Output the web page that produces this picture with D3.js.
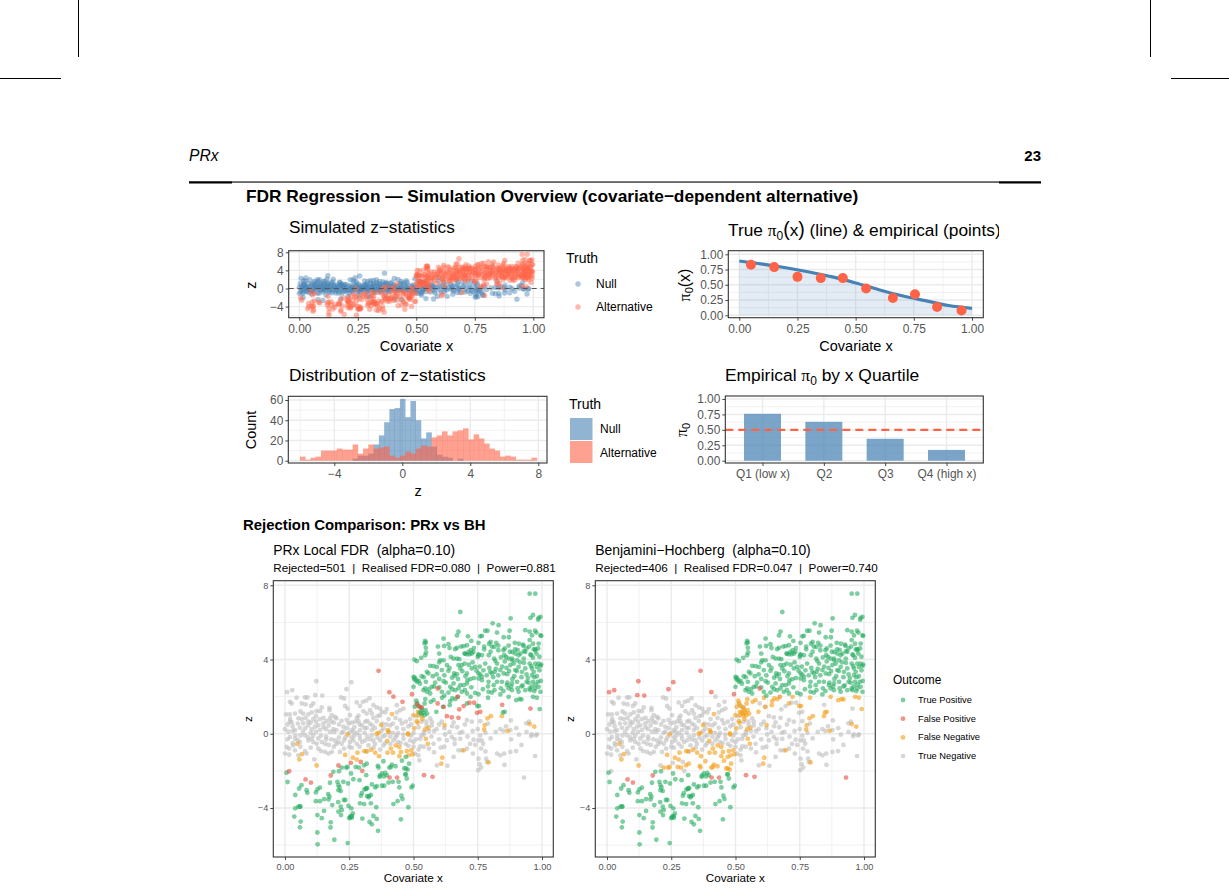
<!DOCTYPE html>
<html><head><meta charset="utf-8">
<script src="https://cdn.jsdelivr.net/npm/d3@7/dist/d3.min.js"></script>
<style>
html,body{margin:0;padding:0;background:#fff}
svg{display:block}
text{font-family:"Liberation Sans",Arial,sans-serif;fill:#000;white-space:pre}
</style></head><body><svg id="c" width="1229" height="890"></svg>
<script>
// ---------- data: [covariate x, z] ----------
const altBothUpper=[[.952,7.55],[.974,7.55],[.682,6.56],[.878,6.22],[.955,6.25],[.965,6.4],[.987,6.25],[.994,6.3],[.985,6.15],[.808,5.95],[.831,5.85],[.779,5.55],[.788,5.55],[.935,5.58],[.952,5.5],[.973,5.55],[.978,5.45],[.994,5.3],[.997,5.28],[.961,5.3],[.675,5.5],[.669,5.3],[.712,5.25],[.617,5.13],[.76,5.25],[.766,5.28],[.825,5.45],[.851,5.2],[.871,5.2],[.874,5.55],[.545,5],[.548,4.92],[.543,4.87],[.548,4.63],[.636,4.83],[.619,4.73],[.725,5],[.708,4.77],[.753,4.9],[.794,4.85],[.822,4.9],[.814,4.68],[.855,4.6],[.894,4.9],[.926,4.8],[.928,4.74],[.952,5.05],[.987,4.86],[.974,4.56],[.968,4.55],[.669,4.63],[.662,4.56],[.695,4.72],[.718,4.28],[.7,4.32],[.727,4.32],[.733,4.41],[.753,4.28],[.83,4.5],
[.504,4],[.513,3.91],[.53,4.09],[.545,4.23],[.549,4.38],[.6,4.32],[.604,3.96],[.617,3.96],[.645,4.14],[.656,4.05],[.669,4.05],[.678,4.02],[.699,4.32],[.708,4.28],[.714,4.41],[.723,4.5],[.75,4.14],[.753,4.23],[.766,4.23],[.793,4.23],[.814,4.05],[.818,3.93],[.853,4.23],[.86,4.14],[.87,4.05],[.896,4.32],[.909,4.23],[.916,4.32],[.935,4.41],[.955,4.27],[.958,4.23],[.974,4.5],[.978,4.32],[.883,4.05],[.903,3.96],[.929,4.05],
[.565,3.66],[.578,3.64],[.552,3.34],[.558,3.25],[.591,3.6],[.61,3.43],[.636,3.39],[.658,3.25],[.669,3.21],[.675,3.7],[.682,3.52],[.688,3.7],[.699,3.78],[.708,3.25],[.727,3.52],[.74,3.6],[.753,3.25],[.76,3.19],[.766,3.07],[.779,3.78],[.799,3.34],[.805,3.25],[.816,3.34],[.825,3.78],[.838,3.43],[.851,3.25],[.864,3.21],[.877,3.7],[.89,3.78],[.896,3.43],[.909,3.6],[.922,3.34],[.935,3.52],[.952,3.78],[.961,3.52],[.968,3.34],[.987,3.78],[.994,3.66],[.997,3.73],[.974,3.78],[.961,3.16],
[.5,3.07],[.503,2.94],[.513,2.8],[.532,3.1],[.548,2.8],[.571,2.53],[.584,2.76],[.617,2.83],[.626,2.76],[.643,2.53],[.656,2.71],[.682,2.62],[.695,2.62],[.708,2.71],[.721,2.94],[.753,2.98],[.766,2.89],[.792,2.8],[.812,2.62],[.825,2.8],[.844,2.8],[.864,2.62],[.883,2.71],[.903,2.8],[.948,2.76],[.965,2.8],[.984,2.8],[.987,2.53],[.5,2.53],[.539,2.35],[.552,2.26],[.565,2.17],[.61,2.26],[.636,2.22],[.662,2.35],[.688,2.26],[.708,2.17],[.753,2.13],[.792,2.26],[.805,2.22],[.838,2.12],[.883,2.35],[.909,2.26],[.935,2.35],[.952,2.44],[.994,2.26],[.974,2.44],
[.66,3.12],[.65,3.02],[.673,2.95],[.69,3.37],[.702,3.1],[.715,3.72],[.73,3.85],[.745,3.4],[.758,3.62],[.772,3.42],[.785,3.15],[.795,3.55],[.81,3.05],[.82,3.5],[.83,3.15],[.845,3.62],[.855,3.9],[.862,3.55],[.872,3.38],[.885,3.95],[.892,3.1],[.902,3.38],[.915,3.85],[.92,3.05],[.93,3.82],[.94,3.2],[.945,3],[.958,3.65],[.97,3.05],[.98,3.6],[.99,3.42],[.6,2.95],[.59,3.2],[.575,3.1],[.63,3.7],[.64,3.55],[.62,3.15],[.735,3],[.71,2.88],[.64,4.62],[.685,4.7],[.735,4.62],[.775,4.55],[.8,4.42],[.805,4.7],[.84,4.12],[.875,4.42],[.885,4.4],[.905,4.52],[.94,4.6],[.965,4.1],[.99,4.15],[.6,3.85],[.595,4.7],
[.505,3.02],[.51,2.9],[.52,2.85],[.525,2.7],[.54,3.05],[.545,2.45],[.56,2.4],[.58,2.55],[.6,2.5],[.62,2.05],[.65,2.4],[.675,2.45],[.7,2.35],[.725,2.5],[.74,2.2],[.77,2.4],[.775,4.7],[.79,2.55],[.8,4.95],[.815,2.35],[.83,4.75],[.84,2.45],[.85,4.5],[.865,2.75],[.87,4.75],[.88,2.55],[.885,2.95],[.895,4.55],[.905,2.45],[.91,4.85],[.925,2.6],[.93,4.45],[.94,2.8],[.95,4.7],[.955,2.35],[.965,4.85],[.975,2.65],[.985,4.6],[.995,2.85],[.98,3.1],[.85,2.3],[.87,2.45],[.92,2.55],[.96,2.55],[.97,2.3]];
const altBothLower=[[.006,-2.1],[.01,-2.6],[.04,-3.3],[.055,-2.95],[.064,-2.77],[.084,-3.04],[.087,-3.18],[.12,-3.16],[.126,-3],[.136,-2.9],[.12,-3.63],[.136,-3.63],[.152,-3.52],[.168,-3.25],[.173,-3.39],[.169,-3.54],[.184,-3.84],[.207,-3.68],[.229,-3.57],[.235,-3.57],[.217,-3.93],[.221,-4.11],[.247,-3.89],[.258,-4.02],[.04,-4.02],[.052,-3.93],[.06,-3.93],[.036,-4.46],[.061,-4.73],[.058,-5.04],[.126,-4.38],[.143,-4.55],[.152,-4.16],[.178,-4.77],[.177,-5.05],[.126,-5.32],[.127,-5.96],[.192,-5.71],[.244,-5.89],[.208,-4.2],[.218,-4.38],[.253,-4.5],[.26,-4.43],[.264,-4.29],[.25,-4.55],[.301,-4.57],[.329,-4.75],[.338,-4.88],[.344,-4.43],[.357,-4.59],[.362,-5.23],[.451,-4.61],[.48,-3.96],[.457,-3.52],[.453,-3.34],[.438,-3.63],[.422,-3.79],[.295,-3.34],[.299,-3.2],[.309,-3],[.316,-2.95],[.319,-3.36],[.327,-3.36],[.334,-3.3],[.292,-3.75],[.308,-3.79],[.334,-3.75],[.355,-3.96],[.338,-2.73],[.351,-2.89],[.357,-2.82],[.377,-2.8],[.386,-2.8],[.403,-2.63],[.419,-2.59],[.442,-2.59],[.445,-2.89],[.492,-2.89],[.497,-2.8],[.175,-2.64],[.204,-2.59],[.208,-2.77],[.212,-2.89],[.208,-3.04],[.217,-3.09],[.227,-2.59],[.245,-2.68],[.266,-2.45],[.29,-2.5],[.316,-2.23],[.188,-2.05],[.21,-2.02],[.257,-2.14],[.368,-2.32],[.377,-2.14],[.39,-2.11],[.396,-2.23],[.468,-2.2],[.474,-2.41],[.255,-4.45],[.26,-4.52],[.385,-2.3],[.37,-2.25],[.47,-2.18],[.315,-2.97],[.32,-2.92],[.325,-3.42],[.058,-3.92]];
const altPrxOnly=[[.221,-1.82],[.238,-1.82],[.243,-1.79],[.275,-1.79],[.288,-1.82],[.308,-1.7],[.318,-1.61],[.361,-1.73],[.364,-1.82],[.383,-1.48],[.416,-1.66],[.412,-1.79],[.406,-1.82],[.464,-1.87],[.471,-1.87],[.477,-1.93],[.483,-1.61],[.47,-1.25],[.455,-1.45],[.43,-1.75],
[.511,1.78],[.514,1.65],[.505,1.45],[.52,1.5],[.546,1.87],[.543,1.63],[.533,1.27],[.547,1.27],[.553,1.09],[.524,1.15],[.543,1],[.567,1.72],[.578,1.81],[.589,1.18],[.611,1.94],[.615,1.45],[.643,1.76],[.651,1.9],[.663,1.87],[.673,1.99],[.641,1.54],[.722,1.99],[.708,1.63],[.748,1.5],[.755,1.49],[.79,1.94],[.855,1.18],[.848,1.15],[.87,1.99],[.9,1.81],[.913,1.87],[.92,1.85],[.965,1.99],[.98,1.94],[.991,1.33],[.53,1.4],[.538,1.15],[.53,1.08]];
const altNeither=[[.066,-1.1],[.056,-1.38],[.048,-.54],[.123,-1.71],[.234,-1.14],[.264,-1.29],[.282,-1.02],[.279,-1.39],[.308,-.93],[.316,-.95],[.335,-.86],[.351,-1.02],[.366,-1.21],[.399,-1.02],[.398,-.39],[.412,-.8],[.42,-1.02],[.431,-.63],[.445,-.71],[.451,-.98],[.445,-1.21],[.474,-.93],[.481,-1.16],[.491,-.89],[.496,-1.11],[.548,-.27],[.556,-.54],[.612,-1.29],[.608,-1.61],[.695,-.89],[.792,-1.54],[.243,-.04],[.357,0],[.403,.09],[.479,-.04],
[.364,.05],[.4,.2],[.374,.47],[.416,1.06],[.478,.02],[.503,.29],[.545,.23],[.558,.32],[.621,.47],[.517,1.18],[.519,1],[.532,.97],[.5,1],[.513,.68],[.516,.59],[.535,.79],[.777,.47],[.775,.23],[.866,.16],[.788,.83],[.801,.95],[.844,.95],[.952,.52],[.97,.39]];
const nullNeither=[[.329,1.92],[.316,1.78],[.019,1.72],[.026,1.63],[.045,1.94],[.078,1.96],[.087,1.96],[.065,1.63],[.08,1.58],[.101,1.5],[.11,1.63],[.143,1.42],[.173,1.4],[.173,1.27],[.218,1.96],[.23,1.9],[.234,1.5],[.243,1.36],[.279,1.69],[.292,1.5],[.303,1.72],[.344,1.54],[.357,1.42],[.37,1.36],[.331,1.27],[.305,1.22],[.396,1.33],[.435,1.54],[.461,1.36],[.448,1.27],[.435,1.15],[.004,1.04],[.019,1.04],[.039,1.09],[.071,1.09],[.091,1.04],[.104,1.15],[.123,1.22],[.136,1.22],[.182,1],[.195,.91],[.253,1],[.286,.97],[.318,1.09],[.338,1.09],[.377,1.18],[.39,1.15],[.019,.65],[.026,.61],[.052,.83],[.065,.79],[.071,.56],[.091,.65],[.11,.79],[.121,.65],[.136,.79],[.149,.56],[.162,.68],[.175,.83],[.2,.83],[.227,.38],[.247,.56],[.273,.65],[.286,.68],[.312,.65],[.344,.86],[.357,.68],[.37,1],[.403,.79],[.448,.74],[.487,.79],[0,.25],[.013,.11],[.039,.2],[.058,.32],[.078,.29],[.104,.25],[.117,.38],[.136,.2],[.175,.11],[.188,.25],[.227,.11],[.26,.2],[.266,.11],[.292,.2],[.318,.32],[.338,.2],[.383,.29],[.403,.11],[.435,.32],[.461,.25],[.571,.65],[.565,.83],[.61,.65],[.656,.61],[.708,.74],[.727,.65],[.76,.68],[.879,.72],[.939,.56],[.949,.65],[.838,.25],[.877,.2],[.96,-.03],[.98,-.03],[.551,.45],[.532,.65],[.571,.45],
[.006,-.71],[.016,-.8],[0,-1.07],[.016,-1.13],[.032,-.63],[.039,-.89],[.052,-1.16],[.078,-.93],[.084,-1.07],[.114,-1.38],[.019,-.18],[.039,-.27],[.058,-.45],[.078,-.09],[.091,-.36],[.104,-.27],[.123,-.54],[.143,-.45],[.156,-.54],[.14,-.93],[.156,-.98],[.169,-1.07],[.182,-.98],[.195,-.36],[.208,-.45],[.221,-.54],[.214,-.98],[.253,-.45],[.266,-.36],[.279,-.54],[.292,-.27],[.312,-.36],[.325,-.63],[.344,-.36],[.37,-.36],[.383,-.63],[.422,-.36],[.461,-.27],[.487,-.36],[.5,-.71],[.506,-1.07],[.519,-1.16],[.523,-1.43],[.526,-.68],[.591,-1.7],[.632,-1.73],[.606,-.75],[.578,-.54],[.656,-1.25],[.675,-.89],[.688,-.89],[.708,-.8],[.731,-1.07],[.734,-.32],[.753,-.36],[.766,-.36],[.763,-.8],[.771,-.54],[.753,-1.34],[.783,-1.34],[.786,-1.52],[.757,-1.64],[.763,-1.82],[.752,-1.96],[.825,-1.07],[.838,-1.16],[.853,-1.07],[.854,-1.68],[.877,-.98],[.899,-.93],[.958,-.13],[.977,-.09],[.973,-1.2],[.526,-.27],[.623,-.04],[.649,-.18],[.682,-.27],[.435,-.09],[.39,-.09],[.338,-.09],
[.03,.4],[.05,.55],[.06,-.1],[.07,.1],[.09,.45],[.11,-.1],[.12,.1],[.13,-.25],[.15,.35],[.16,-.15],[.17,.45],[.18,-.3],[.19,.6],[.2,.2],[.21,-.2],[.22,.7],[.235,-.2],[.24,.3],[.25,.05],[.26,-.2],[.27,.35],[.28,.05],[.29,-.1],[.3,.45],[.31,.05],[.32,-.15],[.33,.55],[.35,.3],[.36,-.2],[.375,.15],[.38,-.15],[.395,.5],[.41,-.15],[.42,.55],[.43,-.2],[.44,.05],[.455,.55],[.47,-.55],[.48,.4],[.49,-.1],[.5,.05],[.51,-.3],[.52,.35],[.54,-.05],[.56,.15],[.57,-.15],[.59,.25],[.6,-.3],[.62,.3],[.64,.1],[.66,-.3],[.67,.35],[.69,.1],[.71,-.15],[.73,.15],[.75,.25],[.76,-.1],[.78,.05],[.8,-.25],[.82,.1],[.85,.15],[.88,-.3],[.91,-.05],[.94,.1],[.03,-.5],[.06,-.7],[.1,-.75],[.13,-.8],[.16,-.3],[.19,-.7],[.23,-.8],[.26,-.75],[.29,-.7],[.32,-.95],[.345,-.75],[.37,-.85],[.41,-.55],[.45,-.5],[.48,-.65],[.5,-.45],[.54,-.7],[.58,-1],[.62,-.7],[.66,-.55],[.72,-.55],[.78,-.95],
[.01,.5],[.01,-.3],[.02,.8],[.03,.15],[.04,-.1],[.05,-.35],[.06,1.2],[.08,.85],[.09,-.2],[.1,.6],[.1,.05],[.11,-.45],[.12,.95],[.13,.45],[.14,-.1],[.15,.85],[.16,.25],[.17,-.6],[.18,.65],[.19,.1],[.2,-.55],[.21,.5],[.22,.05],[.23,-.35],[.24,.75],[.25,-.7],[.26,.6],[.27,-.1],[.28,.85],[.29,.5],[.3,-.45],[.31,.3],[.32,.7],[.33,-.3],[.34,.45],[.35,-.55],[.36,.95],[.38,.55],[.39,-.5],[.41,.45],[.42,.05],[.43,.85],[.44,-.45],[.46,-.05],[.47,.65],[.49,.5],[.51,.95],[.53,-.1],[.55,.65],[.56,-.8],[.58,.15],[.52,-.85],[.54,.1],[.6,.5],[.63,-.35],[.65,.4],[.68,.05],[.7,.5],[.74,-.6],[.79,.55],[.86,.4],[.9,.3],[.92,-.6]];
const nullPrxOnly=[[.422,2],[.457,1.72],[.594,1.63],[.617,1.45],[.63,.95],[.649,.88],[.675,.86],[.678,1.31],[.671,1.99],[.695,1.49],[.718,1.67],[.736,1.67],[.747,1.13],[.76,1.18],[.845,1.56],[.955,1.36],[.513,1.58],[.523,1.45],[.532,1.42],[.016,-2.02],[.208,-1.71],[.256,-1.57],[.295,-1.52],[.301,-2]];
const nullBhOnly=[[.008,2.24],[.028,2.35],[.122,2.83],[.118,2.08],[.145,2.06],[.239,2.4],[.258,2.78],[.93,-2.36]];
const nullBoth=[[.406,2.24],[.494,2.13],[.594,2.44],[.364,3.39],[.08,-2.46],[.101,-2.63],[.178,-2.25],[.407,-2.36],[.436,-2.36],[.541,-2.23],[.574,-2.32]];

const piLineX=[0,.1,.2,.3,.4,.5,.6,.7,.8,.9,1];
const piLineY=[.89,.84,.78,.71,.63,.53,.42,.32,.24,.16,.115];
const piPointX=[.05,.15,.25,.35,.445,.545,.66,.755,.85,.955];
const piPointY=[.83,.79,.63,.61,.61,.44,.285,.345,.135,.08];

const histStart=-6.018, histWidth=.3094;
const histNull=[0,0,0,0,0,0,0,0,0,0,2,5,5,7,16,25,38,51,52,61,43,59,40,22,28,14,6,4,3,0,2,0,0,0,0,0,0,0,0,0,0,0,0,0,0];
const histAlt=[4,1,3,4,10,10,10,12,11,11,16,7,12,16,12,13,14,5,3,5,9,7,12,15,14,23,25,29,25,29,30,32,21,26,22,17,12,10,4,5,4,1,1,1,3];

const quartiles=["Q1 (low x)","Q2","Q3","Q4 (high x)"];
const quartileValues=[.76,.63,.355,.175];
const truthLabels=["Null","Alternative"];
const outcomeLabels=["True Positive","False Positive","False Negative","True Negative"];
const tickX=[0,.25,.5,.75,1], minorX=[.125,.375,.625,.875];
const tickZ=[-4,0,4,8], minorZ=[-6,-2,2,6];
const tickPi=[0,.25,.5,.75,1], minorPi=[.125,.375,.625,.875];

// ---------- colours ----------
const STEEL="#4682B4",TOMATO="#FF6347",GREEN="#27AE60",RED="#E74C3C",ORANGE="#F39C12",GRAY="#BDBDBD";
const TICK="#555555",GRID="#EBEBEB",BORDER="#333333";

const svg=d3.select("#c");
// ---------- page furniture ----------
[[78.5,0,78.5,57],[1150.5,0,1150.5,57],[0,78.5,61,78.5],[1171,78.5,1229,78.5]].forEach(d=>svg.append("line").attr("x1",d[0]).attr("y1",d[1]).attr("x2",d[2]).attr("y2",d[3]).attr("stroke","#000").attr("stroke-width",1));
svg.append("rect").attr("x",189).attr("y",181.5).attr("width",852).attr("height",1.1);
svg.append("rect").attr("x",189).attr("y",181.5).attr("width",43).attr("height",2);
svg.append("rect").attr("x",999).attr("y",181.5).attr("width",42).attr("height",2);
const T=(x,y,s,size,o={})=>{const t=svg.append("text").attr("x",x).attr("y",y).attr("font-size",size).text(s);
  if(o.anchor)t.attr("text-anchor",o.anchor);if(o.weight)t.attr("font-weight",o.weight);if(o.style)t.attr("font-style",o.style);if(o.fill)t.style("fill",o.fill);return t;};
T(189,161,"PRx",15.6,{style:"italic"});
T(1041,161,"23",15,{anchor:"end",weight:"bold"});
T(246,202,"FDR Regression — Simulation Overview (covariate−dependent alternative)",17.3,{weight:"bold"});
T(243,530,"Rejection Comparison: PRx vs BH",14.9,{weight:"bold"});

// ---------- panel helper ----------
function panel(p){
  const g=svg.append("g");
  g.selectAll(".mn").data(p.minorX||[]).join("line").attr("x1",d=>p.x(d)).attr("x2",d=>p.x(d)).attr("y1",p.t).attr("y2",p.b).attr("stroke",GRID).attr("stroke-width",.7);
  g.selectAll(".mny").data(p.minorY||[]).join("line").attr("x1",p.l).attr("x2",p.r).attr("y1",d=>p.y(d)).attr("y2",d=>p.y(d)).attr("stroke",GRID).attr("stroke-width",.7);
  g.selectAll(".mj").data(p.majorX).join("line").attr("x1",d=>p.x(d)).attr("x2",d=>p.x(d)).attr("y1",p.t).attr("y2",p.b).attr("stroke",GRID).attr("stroke-width",1.4);
  g.selectAll(".mjy").data(p.majorY).join("line").attr("x1",p.l).attr("x2",p.r).attr("y1",d=>p.y(d)).attr("y2",d=>p.y(d)).attr("stroke",GRID).attr("stroke-width",1.4);
  return g;
}
function finish(p){
  const fs=p.tickSize;
  const ax=svg.append("g").attr("transform",`translate(0,${p.b})`).call(d3.axisBottom(p.x).tickValues(p.majorX).tickSize(3).tickPadding(p.pad).tickFormat(p.fmtX||d3.format(".2f")));
  const ay=svg.append("g").attr("transform",`translate(${p.l},0)`).call(d3.axisLeft(p.y).tickValues(p.majorY).tickSize(3).tickPadding(2).tickFormat(p.fmtY));
  [ax,ay].forEach(a=>{a.select(".domain").remove();a.selectAll("line").attr("stroke",BORDER).attr("stroke-width",.9);
    a.selectAll("text").attr("font-size",fs).style("fill",TICK).style("font-family",'"Liberation Sans",Arial,sans-serif');});
  svg.append("rect").attr("x",p.l).attr("y",p.t).attr("width",p.r-p.l).attr("height",p.b-p.t).attr("fill","none").attr("stroke",BORDER).attr("stroke-width",1.1);
}
function dots(g,data,x,y,r,col,op){
  g.append("g").selectAll("circle").data(data).join("circle").attr("cx",d=>x(d[0])).attr("cy",d=>y(d[1])).attr("r",r).attr("fill",col).attr("fill-opacity",op);
}
const fmtZ=d=>d3.format("d")(d);
const fmtPi=d3.format(".2f");

// rich label helper for the pi symbol
function piText(sel,parts){
  parts.forEach(p=>{const t=sel.append("tspan").text(p.s);
    if(p.sym)t.style("font-family",'"Liberation Serif",serif');
    if(p.sub)t.attr("font-size",p.sub).attr("dy",p.dy);
    if(p.back)t.attr("dy",p.back);
    if(p.size)t.attr("font-size",p.size);
  });
}

// ---------- 1. Simulated z-statistics ----------
{
 const p={l:288.7,r:544,t:250.7,b:317.7,x:d3.scaleLinear([0,1],[299.3,533.3]),y:d3.scaleLinear([-4,8],[306.6,252.3]),
  majorX:tickX,minorX,majorY:tickZ,minorY:minorZ,fmtY:fmtZ,tickSize:11.9,pad:3.5};
 const g=panel(p);
 const nul=[...nullNeither,...nullPrxOnly,...nullBhOnly,...nullBoth];
 const alt=[...altBothUpper,...altBothLower,...altPrxOnly,...altNeither];
 dots(g,nul,p.x,p.y,2.7,STEEL,.45);
 dots(g,alt,p.x,p.y,2.7,TOMATO,.45);
 g.append("line").attr("x1",p.l).attr("x2",p.r).attr("y1",p.y(0)).attr("y2",p.y(0)).attr("stroke","#555").attr("stroke-width",1).attr("stroke-dasharray","5,4");
 finish(p);
 T(289,233,"Simulated z−statistics",17.2);
 T(416.5,350.5,"Covariate x",14.5,{anchor:"middle"});
 T(0,0,"z",14.5,{anchor:"middle"}).attr("transform","translate(256,285) rotate(-90)");
 T(566,263,"Truth",14);
 const ly=[284,307];
 truthLabels.forEach((s,i)=>{svg.append("circle").attr("cx",578).attr("cy",ly[i]).attr("r",2.7).attr("fill",i?TOMATO:STEEL).attr("fill-opacity",.45);
   T(596,ly[i]+4,s,12);});
}
// ---------- 2. True pi0 ----------
{
 const p={l:728.3,r:983.3,t:250.7,b:317.7,x:d3.scaleLinear([0,1],[739.3,972]),y:d3.scaleLinear([0,1],[315.3,254.3]),
  majorX:tickX,minorX,majorY:tickPi,minorY:minorPi,fmtY:fmtPi,tickSize:11.9,pad:3.5};
 const g=panel(p);
 const idx=d3.range(piLineX.length);
 g.append("path").attr("d",d3.area().x(i=>p.x(piLineX[i])).y0(p.y(0)).y1(i=>p.y(piLineY[i])).curve(d3.curveMonotoneX)(idx)).attr("fill",STEEL).attr("fill-opacity",.15);
 g.append("path").attr("d",d3.line().x(i=>p.x(piLineX[i])).y(i=>p.y(piLineY[i])).curve(d3.curveMonotoneX)(idx)).attr("fill","none").attr("stroke",STEEL).attr("stroke-width",3.2);
 dots(g,piPointX.map((x,i)=>[x,piPointY[i]]),p.x,p.y,5,TOMATO,1);
 finish(p);
 const t=T(728,236,"",17.3);
 piText(t,[{s:"True "},{s:"π",sym:true},{s:"0",sub:12,dy:3.5},{s:"(",back:-3.5,size:19.5},{s:"x",size:17.3},{s:")",size:19.5},{s:" (line) & empirical (points)",size:17.3}]);
 svg.append("rect").attr("x",999).attr("y",214).attr("width",30).attr("height",30).attr("fill","#fff");
 T(856,350.5,"Covariate x",14.5,{anchor:"middle"});
 const tl=T(0,0,"",16,{anchor:"middle"}).attr("transform","translate(690,285) rotate(-90)");
 piText(tl,[{s:"π",sym:true},{s:"0",sub:11,dy:3},{s:"(x)",back:-3,size:16}]);
}
// ---------- 3. Histogram ----------
{
 const p={l:288.3,r:547,t:396.3,b:463,x:d3.scaleLinear([-4,8],[334.3,538.3]),y:d3.scaleLinear([0,60],[460.7,400]),
  majorX:[-4,0,4,8],minorX:[-6,-2,2,6],majorY:[0,20,40,60],minorY:[10,30,50],fmtX:fmtZ,fmtY:fmtZ,tickSize:11.9,pad:3.5};
 const g=panel(p);
 const bars=(vals,col)=>g.append("g").selectAll("rect").data(vals.map((v,i)=>[histStart+i*histWidth,v])).join("rect")
   .attr("x",d=>p.x(d[0])).attr("width",d=>p.x(d[0]+histWidth)-p.x(d[0])+.3).attr("y",d=>p.y(d[1])).attr("height",d=>p.y(0)-p.y(d[1])).attr("fill",col).attr("fill-opacity",.6);
 bars(histNull,STEEL);bars(histAlt,TOMATO);
 finish(p);
 T(289,381,"Distribution of z−statistics",17.4);
 T(418,496,"z",14.5,{anchor:"middle"});
 T(0,0,"Count",14.5,{anchor:"middle"}).attr("transform","translate(256,430) rotate(-90)");
 T(569,409,"Truth",14);
 truthLabels.forEach((s,i)=>{svg.append("rect").attr("x",570).attr("y",418+i*23).attr("width",22.5).attr("height",22).attr("fill",i?TOMATO:STEEL).attr("fill-opacity",.6);
   T(600,432.5+i*24,s,12);});
}
// ---------- 4. Quartiles ----------
{
 const p={l:725.3,r:983.3,t:396,b:463,y:d3.scaleLinear([0,1],[460.7,399]),majorY:tickPi,minorY:minorPi,fmtY:fmtPi,tickSize:11.9,pad:3.5};
 p.x=d3.scalePoint(quartiles,[762.5,946.5]);p.majorX=quartiles;p.fmtX=d=>d;
 const g=panel(p);
 g.append("g").selectAll("rect").data(quartiles).join("rect").attr("x",d=>p.x(d)-18.5).attr("width",37).attr("y",(d,i)=>p.y(quartileValues[i])).attr("height",(d,i)=>p.y(0)-p.y(quartileValues[i])).attr("fill",STEEL).attr("fill-opacity",.72);
 g.append("line").attr("x1",p.l).attr("x2",p.r).attr("y1",p.y(.5)).attr("y2",p.y(.5)).attr("stroke",TOMATO).attr("stroke-width",2.2).attr("stroke-dasharray","8,5");
 finish(p);
 const t=T(725,381,"",17.4);
 piText(t,[{s:"Empirical "},{s:"π",sym:true},{s:"0",sub:12,dy:3.5},{s:" by x Quartile",back:-3.5,size:17.4}]);
 const tl=T(0,0,"",16,{anchor:"middle"}).attr("transform","translate(687,430) rotate(-90)");
 piText(tl,[{s:"π",sym:true},{s:"0",sub:11,dy:3}]);
}
// ---------- 5/6. Rejection panels ----------
function rejection(o){
 const p={l:o.l,r:o.l+280,t:580.7,b:857,x:d3.scaleLinear([0,1],[o.x0,o.x0+257]),y:d3.scaleLinear([-4,8],[808,585.3]),
  majorX:tickX,minorX,majorY:[-4,0,4,8],minorY:minorZ,fmtY:fmtZ,tickSize:9.2,pad:3};
 const g=panel(p);
 dots(g,nullNeither.concat(o.tn),p.x,p.y,2.4,GRAY,.6);
 dots(g,o.fn,p.x,p.y,2.4,ORANGE,.6);
 dots(g,o.tp,p.x,p.y,2.4,GREEN,.6);
 dots(g,o.fp,p.x,p.y,2.4,RED,.6);
 finish(p);
 T(o.l,555,o.title,13.9);
 T(o.l,571.5,o.sub,11.7);
 T(o.l+140,882,"Covariate x",11.7,{anchor:"middle"});
 T(0,0,"z",11.7,{anchor:"middle"}).attr("transform",`translate(${o.l-21},719) rotate(-90)`);
}
const bothTP=[...altBothUpper,...altBothLower];
rejection({l:273.3,x0:285,title:"PRx Local FDR  (alpha=0.10)",sub:"Rejected=501  |  Realised FDR=0.080  |  Power=0.881",
  tp:bothTP.concat(altPrxOnly),fn:altNeither,fp:nullBoth.concat(nullPrxOnly),tn:nullBhOnly});
rejection({l:595.3,x0:607,title:"Benjamini−Hochberg  (alpha=0.10)",sub:"Rejected=406  |  Realised FDR=0.047  |  Power=0.740",
  tp:bothTP,fn:altNeither.concat(altPrxOnly),fp:nullBoth.concat(nullBhOnly),tn:nullPrxOnly});
T(893,684,"Outcome",11.9);
[GREEN,RED,ORANGE,GRAY].forEach((c,i)=>{const y=700+i*18.7;
  svg.append("circle").attr("cx",903).attr("cy",y).attr("r",2.4).attr("fill",c).attr("fill-opacity",.6);
  T(918,y+3,outcomeLabels[i],9.3);});
</script></body></html>
